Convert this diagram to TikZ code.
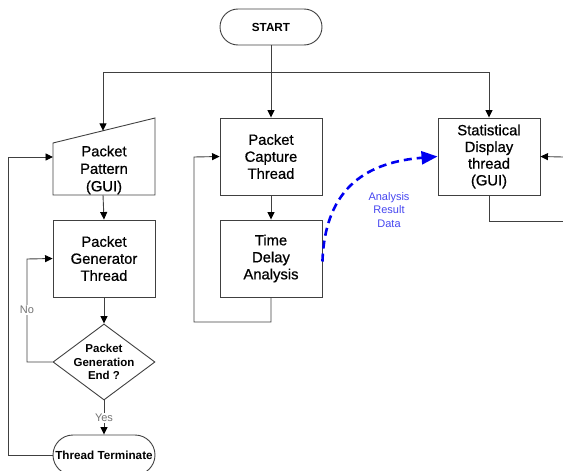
\documentclass[tikz,border=0pt]{standalone}
\usepackage{fontspec}
\setmainfont{Liberation Sans}
\newfontfamily\medfont[FakeBold=0.7]{Liberation Sans}
\usetikzlibrary{arrows.meta,shapes.geometric}
\begin{document}
\begin{tikzpicture}[x=1pt,y=-1pt,
  line/.style={draw=black!75,line width=0.9pt},
  arr/.style={line,-{Triangle[length=7.5pt,width=7pt,black]}},
  box/.style={draw=black!75,line width=0.9pt,minimum width=102pt,minimum height=77pt,inner sep=0pt,align=center,font=\medfont\fontsize{14.8}{17}\selectfont},
  term/.style={draw=black!75,line width=0.9pt,rounded corners=18pt,minimum width=102pt,inner sep=0pt,align=center,font=\fontsize{11.7}{13.5}\selectfont\bfseries},
  dia/.style={draw=black!75,line width=0.9pt,diamond,minimum width=102pt,minimum height=76pt,inner sep=0pt},
  diatext/.style={align=center,inner sep=0pt,font=\fontsize{11.5}{13.5}\selectfont\bfseries},
  lbl/.style={fill=white,inner sep=1pt,text=black!55,font=\fontsize{11}{13}\selectfont},
  blue lbl/.style={align=center,text={rgb,255:red,70;green,70;blue,240},font=\fontsize{11}{13.7}\selectfont}
]
\useasboundingbox (0,0) rectangle (563,471);
% start
\node[term,minimum height=36pt] (start) at (271,27) {START};
\coordinate (jc) at (271,72);
\coordinate (jl) at (103,72);
\coordinate (jr) at (489,72);
% packet pattern (manual input shape)
\coordinate (pTL) at (53,143);
\coordinate (pTR) at (155,118);
\coordinate (pBR) at (155,195);
\coordinate (pBL) at (53,195);
\coordinate (pTop) at (103,130.8);
\coordinate (pL) at (53,157);
\coordinate (pB) at (103,195);
\draw[line] (pTL) -- (pTR) -- (pBR) -- (pBL) -- cycle;
\node[align=center,font=\medfont\fontsize{14.8}{17.5}\selectfont] (pattern) at (104,170) {Packet\\Pattern\\(GUI)};
% left column
\node[box] (gen) at (104,258.5) {Packet\\Generator\\Thread};
\node[dia] (dec) at (104,362) {};
\node[diatext] (dectext) at (dec.center) {Packet\\Generation\\End ?};
\node[term,minimum height=40pt,rounded corners=20pt] (termn) at (104,455) {Thread Terminate};
% middle column
\node[box] (cap) at (271,156.5) {Packet\\Capture\\Thread};
\node[box] (tda) at (271,258.5) {Time\\Delay\\Analysis};
% right column
\node[box,font=\medfont\fontsize{14.8}{16.7}\selectfont] (stat) at (489,156.5) {Statistical\\Display\\thread\\(GUI)};
\coordinate (rin) at (563,157);
\coordinate (rout) at (563,221);
% connectors
\draw[line] (start.south) -- (jc);
\draw[line] (jl) -- (jr);
\draw[arr] (jl) -- (pTop);
\draw[arr] (jc) -- (cap.north);
\draw[arr] (jr) -- (stat.north);
\draw[arr] (pB) -- (gen.north);
\draw[arr] (gen.south) -- (dec.north);
\draw[arr] (dec.west) -- (27,362) -- (27,259) -- (gen.west);
\node[lbl] (no) at (27,310) {No};
\draw[arr] (dec.south) -- (termn.north);
\node[lbl] (yes) at (104,418) {Yes};
\draw[arr] (termn.west) -- (8,455) -- (8,157) -- (pL);
\draw[arr] (cap.south) -- (tda.north);
\draw[arr] (tda.south) -- (271,322) -- (194,322) -- (194,157) -- (cap.west);
\draw[arr] (rin) -- (stat.east);
\draw[line] (stat.south) -- (489,221) -- (rout);
% blue dashed curve
\draw[draw={rgb,255:red,0;green,0;blue,240},line width=2.6pt,dash pattern=on 8pt off 5pt,-{Triangle[length=16pt,width=13pt]}]
  (tda.east) ++(0,3) .. controls (325,185) and (370,162) .. (stat.west);
\node[blue lbl] (ard) at (389,210) {Analysis\\Result\\Data};
\end{tikzpicture}
\end{document}
